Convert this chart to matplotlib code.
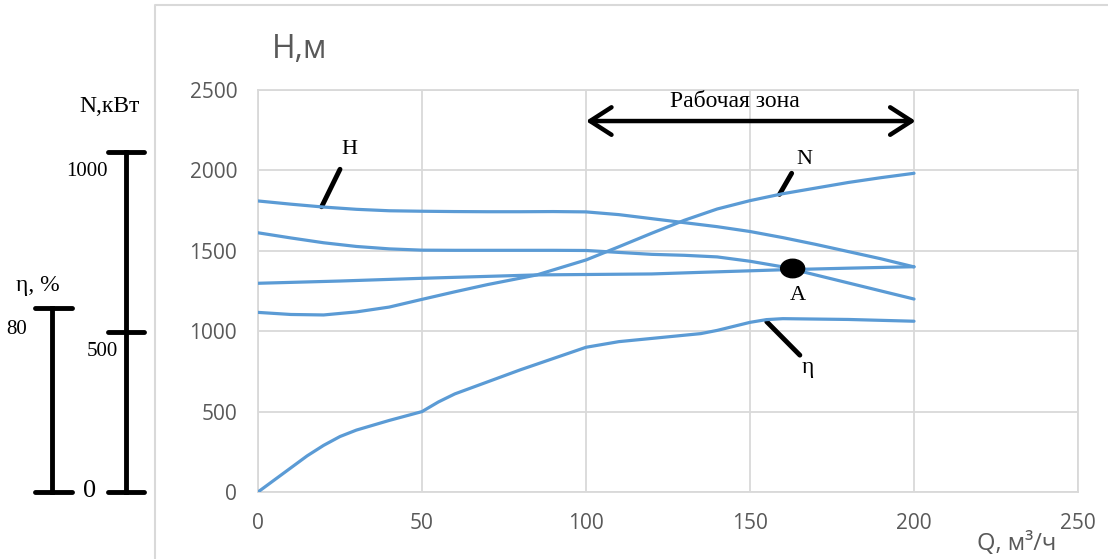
import numpy as np
import matplotlib.pyplot as plt
from matplotlib.patches import Ellipse

# curves (Q in m3/h, value on the H axis scale)
q_h = [0, 10, 20, 30, 40, 50, 60, 70, 80, 90, 100, 110, 120, 130, 140, 150, 160, 170, 180, 190, 200]
h_top = [1810, 1790, 1772, 1758, 1749, 1746, 1744, 1743, 1743, 1744, 1742, 1725, 1700, 1675, 1650, 1620, 1582, 1540, 1495, 1450, 1400]

q_2 = [0, 10, 20, 30, 40, 50, 60, 70, 80, 90, 100, 110, 120, 130, 140, 150, 160, 170, 180, 190, 200]
h_2 = [1612, 1580, 1550, 1527, 1512, 1504, 1503, 1503, 1503, 1503, 1502, 1490, 1478, 1472, 1462, 1435, 1400, 1350, 1300, 1250, 1200]

q_3 = [0, 25, 50, 85, 120, 135, 160, 180, 200]
h_3 = [1298, 1312, 1329, 1350, 1356, 1366, 1382, 1392, 1401]

q_n = [0, 10, 20, 30, 40, 50, 60, 70, 85, 100, 110, 120, 130, 140, 150, 160, 170, 180, 190, 200]
n_vals = [1117, 1104, 1101, 1120, 1150, 1198, 1245, 1290, 1350, 1443, 1525, 1609, 1690, 1760, 1812, 1855, 1890, 1925, 1955, 1982]

q_eta = [0, 5, 10, 15, 20, 25, 30, 40, 50, 55, 60, 70, 80, 90, 100, 110, 120, 130, 135, 140, 150, 155, 160, 180, 200]
eta_vals = [0, 75, 150, 225, 290, 345, 385, 445, 500, 560, 610, 685, 760, 830, 900, 935, 955, 975, 985, 1005, 1055, 1072, 1078, 1073, 1062]

point_a = (163, 1390)
zone = (100, 200)

W, H = 1108, 559
fig = plt.figure(figsize=(W / 100, H / 100), dpi=100)
ax = fig.add_axes([258 / W, (H - 492) / H, 820 / W, 402 / H])

blue = '#5B9BD5'
grid = '#D9D9D9'
for xs, ys in [(q_h, h_top), (q_2, h_2), (q_3, h_3), (q_n, n_vals), (q_eta, eta_vals)]:
    ax.plot(xs, ys, color=blue, lw=2.3, solid_capstyle='round', solid_joinstyle='round', zorder=3)

ax.set_xlim(0, 250)
ax.set_ylim(0, 2500)
ax.set_xticks(np.arange(0, 251, 50))
ax.set_yticks(np.arange(0, 2501, 500))
ax.grid(True, color=grid, lw=1.3)
ax.set_axisbelow(True)
for s in ax.spines.values():
    s.set_color(grid)
    s.set_linewidth(1.3)
ax.tick_params(length=0, labelsize=15, labelcolor='#595959', pad=15)
for lab in ax.get_xticklabels() + ax.get_yticklabels():
    lab.set_family('Open Sans')

serif = 'Liberation Serif'
# point A
ax.add_patch(Ellipse(point_a, 7.3, 115, color='black', zorder=5))
ax.text(164.6, 1225, 'A', family=serif, fontsize=16, ha='center', va='center')

# curve labels with leader lines
ax.plot([19.4, 25.0], [1774, 2007], color='black', lw=3.5, solid_capstyle='round')
ax.text(28, 2127, 'H', family=serif, fontsize=16, ha='center', va='center')
ax.plot([159, 162.7], [1851, 1982], color='black', lw=3.5, solid_capstyle='round')
ax.text(166.5, 2065, 'N', family=serif, fontsize=16, ha='center', va='center')
ax.plot([155.1, 165.2], [1059, 851], color='black', lw=3.5, solid_capstyle='round')
ax.text(167.5, 775, 'η', family=serif, fontsize=17, ha='center', va='center')

# working zone arrow
ax.annotate('', xy=(zone[1] + 0.5, 2307), xytext=(zone[0], 2307),
            arrowprops=dict(arrowstyle='<->,head_length=0.7,head_width=0.45',
                            mutation_scale=22, color='black', lw=3.2,
                            shrinkA=0, shrinkB=0, capstyle='round', joinstyle='round'),
            annotation_clip=False)
ax.text(145.4, 2430, 'Рабочая зона', family=serif, fontsize=17, ha='center', va='center')

# overlay in pixel coordinates for the outer decorations
ov = fig.add_axes([0, 0, 1, 1], facecolor='none')
ov.set_xlim(0, W)
ov.set_ylim(H, 0)
ov.axis('off')
ov.plot([155, 155, W], [H, 5, 5], color=grid, lw=1.5)
ov.text(300, 50, 'H,м', family='Open Sans', fontsize=23, color='#595959', ha='center', va='center')
ov.text(1017, 544, 'Q, м³/ч', family='Open Sans', fontsize=17, color='#595959', ha='center', va='center')

# N scale
ov.plot([126, 126], [152, 492], color='black', lw=3.5)
for y in [152, 332, 492]:
    ov.plot([108, 144], [y, y], color='black', lw=3.5, solid_capstyle='round')
ov.text(110, 107, 'N,кВт', family=serif, fontsize=17, ha='center', va='center')
ov.text(87, 171, '1000', family=serif, fontsize=15, ha='center', va='center')
ov.text(102, 351, '500', family=serif, fontsize=15, ha='center', va='center')
ov.text(90, 491, '0', family=serif, fontsize=19, ha='center', va='center')

# eta scale
ov.plot([52, 52], [308, 492], color='black', lw=3.5)
for y in [308, 492]:
    ov.plot([35, 72], [y, y], color='black', lw=3.5, solid_capstyle='round')
ov.text(38, 285, 'η, %', family=serif, fontsize=17, ha='center', va='center')
ov.text(17, 330, '80', family=serif, fontsize=15, ha='center', va='center')

fig.savefig('out.png', dpi=100)
